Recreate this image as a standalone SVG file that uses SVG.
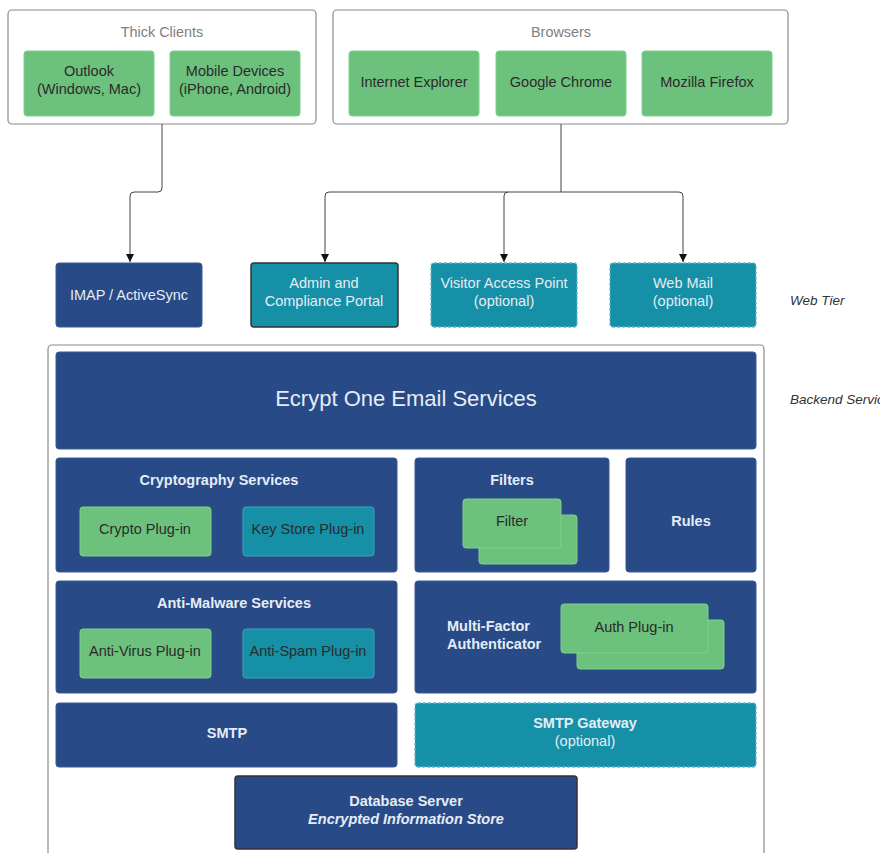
<svg xmlns="http://www.w3.org/2000/svg" width="880" height="853" viewBox="0 0 880 853">
<defs>
<style>
text{font-family:"Liberation Sans",Arial,sans-serif;text-anchor:middle}
.grp{fill:#fff;stroke:#8a8a8a;stroke-width:1.2}
.gt{fill:#808080;font-size:14.4px}
.green{fill:#6cc17c;stroke:#7fd08e;stroke-width:1}
.navy{fill:#284a87;stroke:#3b5b96;stroke-width:1}
.teal{fill:#1590a6;stroke:#3aa7b8;stroke-width:1}
.dash{stroke:#5fb6c6;stroke-dasharray:3 2;stroke-width:1.3}
.dark{stroke:#333;stroke-width:1.5}
.dt{fill:#2b2b2b;font-size:14.5px}
.wt{fill:#e6ecf5;font-size:14.5px}
.wb{fill:#e6ecf5;font-size:14.5px;font-weight:bold}
.side{fill:#333;font-size:13.5px;font-style:italic;text-anchor:start}
.conn{fill:none;stroke:#444;stroke-width:1}
</style>
<marker id="arr" viewBox="0 0 10 10" refX="10" refY="5" markerWidth="8" markerHeight="8" orient="auto" markerUnits="userSpaceOnUse">
<path d="M0,0 L10,5 L0,10 z" fill="#111"/>
</marker>
</defs>

<g id="thick-clients">
<rect class="grp" x="8" y="10" width="308" height="114" rx="4"/>
<text class="gt" x="162" y="37">Thick Clients</text>
</g>
<g id="outlook"><rect class="green" x="24" y="51" width="130" height="65" rx="3"/><text class="dt" x="89" y="76">Outlook</text><text class="dt" x="89" y="94">(Windows, Mac)</text></g>
<g id="mobile"><rect class="green" x="170" y="51" width="130" height="65" rx="3"/><text class="dt" x="235" y="76">Mobile Devices</text><text class="dt" x="235" y="94">(iPhone, Android)</text></g>

<g id="browsers">
<rect class="grp" x="333" y="10" width="455" height="114" rx="4"/>
<text class="gt" x="561" y="37">Browsers</text>
</g>
<g id="ie"><rect class="green" x="349" y="51" width="130" height="65" rx="3"/><text class="dt" x="414" y="87">Internet Explorer</text></g>
<g id="chrome"><rect class="green" x="496" y="51" width="130" height="65" rx="3"/><text class="dt" x="561" y="87">Google Chrome</text></g>
<g id="firefox"><rect class="green" x="642" y="51" width="130" height="65" rx="3"/><text class="dt" x="707" y="87">Mozilla Firefox</text></g>

<g id="connectors">
<path class="conn" d="M162,124 V188 Q162,192 158,192 H134 Q130,192 130,196 V262" marker-end="url(#arr)"/>
<path class="conn" d="M561,124 V192"/>
<path class="conn" d="M329,192 H679 Q683,192 683,196 V262" marker-end="url(#arr)"/>
<path class="conn" d="M329,192 Q325,192 325,196 V262" marker-end="url(#arr)"/>
<path class="conn" d="M508,192 Q504,192 504,196 V262" marker-end="url(#arr)"/>
</g>

<g id="imap"><rect class="navy" x="56" y="263" width="146" height="64" rx="3"/><text class="wt" x="129" y="300">IMAP / ActiveSync</text></g>
<g id="admin"><rect class="teal dark" x="251" y="263" width="147" height="64" rx="3"/><text class="wt" x="324" y="288">Admin and</text><text class="wt" x="324" y="306">Compliance Portal</text></g>
<g id="visitor"><rect class="teal dash" x="431" y="263" width="146" height="64" rx="3"/><text class="wt" x="504" y="288">Visitor Access Point</text><text class="wt" x="504" y="306">(optional)</text></g>
<g id="webmail"><rect class="teal dash" x="610" y="263" width="146" height="64" rx="3"/><text class="wt" x="683" y="288">Web Mail</text><text class="wt" x="683" y="306">(optional)</text></g>
<g id="web-tier-label"><text class="side" x="790" y="305">Web Tier</text></g>

<g id="backend">
<rect class="grp" x="48" y="345" width="716" height="520" rx="4"/>
</g>
<g id="backend-label"><text class="side" x="790" y="404">Backend Services</text></g>

<g id="ecrypt"><rect class="navy" x="56" y="352" width="700" height="97" rx="3"/><text x="406" y="406" style="fill:#e6ecf5;font-size:22px">Ecrypt One Email Services</text></g>

<g id="crypto-services"><rect class="navy" x="56" y="458" width="341" height="114" rx="3"/><text class="wb" x="219" y="485">Cryptography Services</text></g>
<g id="crypto-plugin"><rect class="green" x="80" y="507" width="131" height="49" rx="3"/><text class="dt" x="145" y="534">Crypto Plug-in</text></g>
<g id="keystore-plugin"><rect class="teal" x="243" y="507" width="131" height="49" rx="3"/><text class="dt" x="308" y="534">Key Store Plug-in</text></g>

<g id="filters"><rect class="navy" x="415" y="458" width="194" height="114" rx="3"/><text class="wb" x="512" y="485">Filters</text>
<rect class="green" x="479" y="515" width="98" height="49" rx="3"/>
<rect class="green" x="463" y="499" width="98" height="49" rx="3"/><text class="dt" x="512" y="526">Filter</text></g>

<g id="rules"><rect class="navy" x="626" y="458" width="130" height="114" rx="3"/><text class="wb" x="691" y="526">Rules</text></g>

<g id="antimalware"><rect class="navy" x="56" y="581" width="341" height="112" rx="3"/><text class="wb" x="234" y="608">Anti-Malware Services</text></g>
<g id="antivirus"><rect class="green" x="80" y="629" width="131" height="49" rx="3"/><text class="dt" x="145" y="656">Anti-Virus Plug-in</text></g>
<g id="antispam"><rect class="teal" x="243" y="629" width="131" height="49" rx="3"/><text class="dt" x="308" y="656">Anti-Spam Plug-in</text></g>

<g id="mfa"><rect class="navy" x="415" y="581" width="341" height="112" rx="3"/>
<text class="wb" x="447" y="631" style="text-anchor:start">Multi-Factor</text>
<text class="wb" x="447" y="649" style="text-anchor:start">Authenticator</text>
<rect class="green" x="577" y="620" width="147" height="49" rx="3"/>
<rect class="green" x="561" y="604" width="147" height="49" rx="3"/><text class="dt" x="634" y="632">Auth Plug-in</text></g>

<g id="smtp"><rect class="navy" x="56" y="703" width="341" height="64" rx="3"/><text class="wb" x="227" y="738">SMTP</text></g>
<g id="smtp-gateway"><rect class="teal dash" x="415" y="703" width="341" height="64" rx="3"/><text class="wb" x="585" y="728">SMTP Gateway</text><text class="wt" x="585" y="746">(optional)</text></g>

<g id="database"><rect class="navy dark" x="235" y="776" width="342" height="73" rx="3"/><text class="wb" x="406" y="806">Database Server</text><text class="wb" x="406" y="824" style="font-style:italic">Encrypted Information Store</text></g>
</svg>
